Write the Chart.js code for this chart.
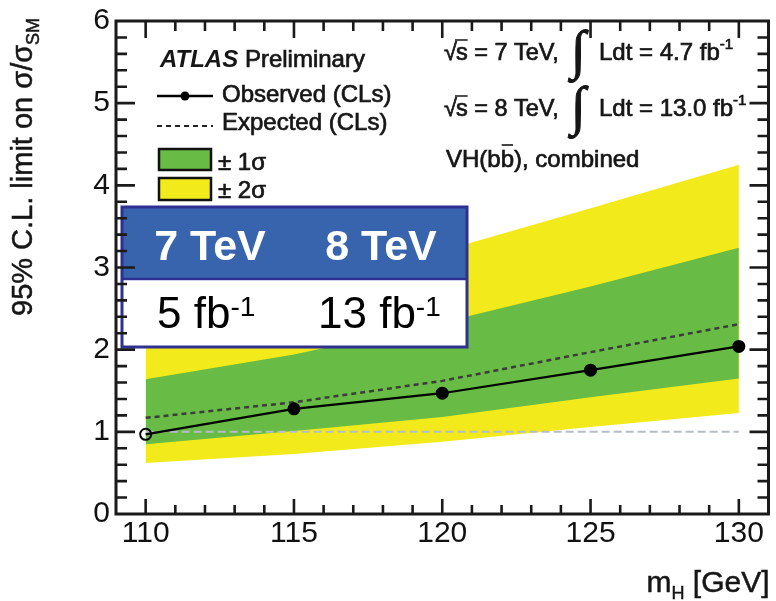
<!DOCTYPE html>
<html>
<head>
<meta charset="utf-8">
<script src="https://cdn.jsdelivr.net/npm/chart.js@4.4.1/dist/chart.umd.min.js"></script>
<style>
  html, body { margin: 0; padding: 0; background: #ffffff; }
  canvas { display: block; }
</style>
</head>
<body>
<canvas id="limitChart" width="776" height="601"></canvas>
<script>
// Higgs mass points [GeV]
const massPoints = [110, 115, 120, 125, 130];
// 95% CL upper limits on sigma / sigma_SM
const observedLimit = [0.97, 1.28, 1.47, 1.75, 2.04];
const expectedLimit = [1.17, 1.36, 1.62, 1.97, 2.31];
const band1SigmaUp = [1.64, 1.94, 2.33, 2.77, 3.24];
const band1SigmaDown = [0.85, 1.01, 1.18, 1.42, 1.65];
const band2SigmaUp = [2.45, 2.78, 3.20, 3.72, 4.25];
const band2SigmaDown = [0.62, 0.73, 0.88, 1.06, 1.23];
// reference line at sigma / sigma_SM = 1
const unityMass = [110, 130];
const unityLimit = [1, 1];
// axis tick labels
const xTickValues = [110, 115, 120, 125, 130];
const yTickValues = [0, 1, 2, 3, 4, 5, 6];

const FONT = '"Liberation Sans", Arial, Helvetica, sans-serif';
const GREEN = '#68bb45';
const YELLOW = '#f3ea1b';
const NAVY = '#2e3192';
const HEADER_BLUE = '#3864ae';
const INK = '#161616';

function toPoints(xs, ys) {
  return xs.map((x, i) => ({ x: x, y: ys[i] }));
}

// text drawn slightly heavier than the regular face
function heavyText(ctx, str, x, y) {
  ctx.fillText(str, x, y);
  ctx.strokeText(str, x, y);
}

function textWithSup(ctx, x, y, base, sup, font, supFont, supRise, heavy) {
  ctx.font = font;
  if (heavy) heavyText(ctx, base, x, y); else ctx.fillText(base, x, y);
  const w = ctx.measureText(base).width;
  ctx.font = supFont;
  if (heavy) heavyText(ctx, sup, x + w, y - supRise); else ctx.fillText(sup, x + w, y - supRise);
  return x + w + ctx.measureText(sup).width;
}

const atlasDecor = {
  id: 'atlasDecor',
  afterDatasetsDraw(chart) {
    const ctx = chart.ctx;
    const a = chart.chartArea;
    const xs = chart.scales.x;
    const ys = chart.scales.y;
    ctx.save();
    ctx.textBaseline = 'alphabetic';

    // ---- overlay box with beam energies and luminosities ----
    const bx0 = 122, by0 = 207, bx1 = 467, by1 = 347, bmid = 279;
    ctx.fillStyle = '#ffffff';
    ctx.fillRect(bx0, by0, bx1 - bx0, by1 - by0);
    ctx.fillStyle = HEADER_BLUE;
    ctx.fillRect(bx0, by0, bx1 - bx0, bmid - by0);
    ctx.strokeStyle = NAVY;
    ctx.lineWidth = 3;
    ctx.strokeRect(bx0, by0, bx1 - bx0, by1 - by0);
    ctx.lineWidth = 2.5;
    ctx.beginPath(); ctx.moveTo(bx0, bmid); ctx.lineTo(bx1, bmid); ctx.stroke();

    ctx.fillStyle = '#ffffff';
    ctx.textAlign = 'center';
    ctx.font = 'bold 43px ' + FONT;
    ctx.fillText('7 TeV', 210, 260);
    ctx.fillText('8 TeV', 381, 260);
    ctx.textAlign = 'left';
    ctx.fillStyle = '#000000';
    textWithSup(ctx, 157, 328, '5 fb', '-1', '44px ' + FONT, '28px ' + FONT, 12, false);
    textWithSup(ctx, 318, 328, '13 fb', '-1', '44px ' + FONT, '28px ' + FONT, 12, false);

    // ---- frame and inward tick marks ----
    ctx.strokeStyle = '#1a1a1a';
    ctx.lineWidth = 3;
    ctx.strokeRect(a.left, a.top, a.right - a.left, a.bottom - a.top);
    ctx.lineWidth = 2.6;
    ctx.beginPath();
    for (let m = Math.ceil(xs.min); m <= Math.floor(xs.max); m++) {
      const px = xs.getPixelForValue(m);
      if (px <= a.left + 2 || px >= a.right - 2) continue;
      const major = m % 5 === 0;
      ctx.moveTo(px, a.bottom); ctx.lineTo(px, a.bottom - (major ? 15 : 9));
      ctx.moveTo(px, a.top); ctx.lineTo(px, a.top + (major ? 17 : 10));
    }
    for (let k = 1; k < 30; k++) {
      const v = k / 5;
      const py = ys.getPixelForValue(v);
      const major = k % 5 === 0;
      ctx.moveTo(a.left, py); ctx.lineTo(a.left + (major ? 19 : 11), py);
      ctx.moveTo(a.right, py); ctx.lineTo(a.right - (major ? 19 : 11), py);
    }
    ctx.stroke();

    // ---- axis titles ----
    ctx.fillStyle = INK;
    ctx.strokeStyle = INK;
    ctx.lineWidth = 0.5;
    // x title: m_H [GeV], right aligned to the frame
    const mainX = '30px ' + FONT, subX = '18px ' + FONT;
    ctx.font = mainX; const wm = ctx.measureText('m').width;
    ctx.font = subX; const wh = ctx.measureText('H').width;
    ctx.font = mainX; const wg = ctx.measureText(' [GeV]').width;
    let tx = a.right + 1 - (wm + wh + wg);
    const tb = 592;
    ctx.font = mainX; heavyText(ctx, 'm', tx, tb); tx += wm;
    ctx.font = subX; heavyText(ctx, 'H', tx, tb + 7); tx += wh;
    ctx.font = mainX; heavyText(ctx, ' [GeV]', tx, tb);

    // y title, rotated
    ctx.save();
    ctx.translate(32, 316);
    ctx.rotate(-Math.PI / 2);
    ctx.font = '29px ' + FONT;
    const yTitle = '95% C.L. limit on \u03c3/\u03c3';
    heavyText(ctx, yTitle, 0, 0);
    const wy = ctx.measureText(yTitle).width;
    ctx.font = '18px ' + FONT;
    heavyText(ctx, 'SM', wy, 7);
    ctx.restore();

    // ---- legend ----
    const LEG = '24px ' + FONT;
    ctx.lineWidth = 0.7;
    ctx.font = 'italic bold 24px ' + FONT;
    ctx.fillText('ATLAS', 160, 67);
    const wa = ctx.measureText('ATLAS').width;
    ctx.font = LEG;
    heavyText(ctx, ' Preliminary', 160 + wa, 67);

    ctx.strokeStyle = '#000000';
    ctx.lineWidth = 2.4;
    ctx.beginPath(); ctx.moveTo(157, 96); ctx.lineTo(213, 96); ctx.stroke();
    ctx.fillStyle = '#000000';
    ctx.beginPath(); ctx.arc(185, 96, 4.5, 0, Math.PI * 2); ctx.fill();

    ctx.strokeStyle = '#222222';
    ctx.lineWidth = 2;
    ctx.setLineDash([5, 4]);
    ctx.beginPath(); ctx.moveTo(157, 126); ctx.lineTo(213, 126); ctx.stroke();
    ctx.setLineDash([]);

    ctx.lineWidth = 2.5;
    ctx.strokeStyle = '#111111';
    ctx.fillStyle = GREEN;
    ctx.fillRect(159, 149, 52, 21);
    ctx.strokeRect(159, 149, 52, 21);
    ctx.fillStyle = YELLOW;
    ctx.fillRect(159, 178, 52, 22);
    ctx.strokeRect(159, 178, 52, 22);

    ctx.fillStyle = INK;
    ctx.strokeStyle = INK;
    ctx.lineWidth = 0.7;
    ctx.font = LEG;
    heavyText(ctx, 'Observed (CLs)', 222, 102);
    heavyText(ctx, 'Expected (CLs)', 222, 130);
    heavyText(ctx, '\u00b1 1\u03c3', 218, 170);
    heavyText(ctx, '\u00b1 2\u03c3', 218, 198);

    // ---- luminosity and channel labels ----
    const lumiLine = (base, label, lumi) => {
      ctx.fillStyle = INK;
      ctx.strokeStyle = INK;
      ctx.lineWidth = 0.7;
      ctx.font = '23.5px ' + FONT;
      heavyText(ctx, '\u221a', 444, base);
      const wr = ctx.measureText('\u221a').width;
      const sx = 444 + wr - 1;
      heavyText(ctx, label, sx, base);
      const ws = ctx.measureText('s').width;
      ctx.lineWidth = 1.5;
      ctx.beginPath(); ctx.moveTo(sx - 1, base - 20); ctx.lineTo(sx + ws, base - 20); ctx.stroke();
      ctx.lineWidth = 1;
      ctx.font = '54px "Liberation Serif", "DejaVu Serif", serif';
      heavyText(ctx, '\u222b', 571, base + 8);
      ctx.lineWidth = 0.7;
      textWithSup(ctx, 599, base, lumi, '-1', LEG, '15px ' + FONT, 11, true);
    };
    lumiLine(60, 's = 7 TeV,', 'Ldt = 4.7 fb');
    lumiLine(116, 's = 8 TeV,', 'Ldt = 13.0 fb');

    ctx.font = LEG;
    ctx.lineWidth = 0.7;
    let cx = 446;
    heavyText(ctx, 'VH(b', cx, 167); cx += ctx.measureText('VH(b').width;
    const wb = ctx.measureText('b').width;
    heavyText(ctx, 'b', cx, 167);
    ctx.lineWidth = 1.6;
    ctx.beginPath(); ctx.moveTo(cx + 1, 145); ctx.lineTo(cx + wb - 1, 145); ctx.stroke();
    cx += wb;
    ctx.lineWidth = 0.7;
    heavyText(ctx, '), combined', cx, 167);

    ctx.restore();
  }
};

const noLine = 'rgba(0,0,0,0)';

new Chart(document.getElementById('limitChart'), {
  type: 'line',
  data: {
    datasets: [
      {
        label: 'Observed (CLs)',
        data: toPoints(massPoints, observedLimit),
        borderColor: '#000000',
        borderWidth: 2.2,
        pointRadius: 5.5,
        pointHoverRadius: 5.5,
        pointBorderWidth: 2,
        pointBorderColor: '#000000',
        pointBackgroundColor: observedLimit.map((v, i) => (i === 0 ? 'rgba(0,0,0,0)' : '#000000')),
        fill: false,
        tension: 0,
        order: 0
      },
      {
        label: 'Expected (CLs)',
        data: toPoints(massPoints, expectedLimit),
        borderColor: '#3c3c3c',
        borderWidth: 2.5,
        borderDash: [5, 4],
        pointRadius: 0,
        fill: false,
        tension: 0,
        order: 1
      },
      {
        label: 'SM',
        data: toPoints(unityMass, unityLimit),
        borderColor: '#b5bdc6',
        borderWidth: 2,
        borderDash: [8, 4],
        pointRadius: 0,
        fill: false,
        order: 2
      },
      {
        label: '+1 sigma',
        data: toPoints(massPoints, band1SigmaUp),
        borderColor: noLine,
        borderWidth: 1,
        pointRadius: 0,
        backgroundColor: GREEN,
        fill: '+1',
        tension: 0,
        order: 3
      },
      {
        label: '-1 sigma',
        data: toPoints(massPoints, band1SigmaDown),
        borderColor: noLine,
        borderWidth: 1,
        pointRadius: 0,
        fill: false,
        tension: 0,
        order: 4
      },
      {
        label: '+2 sigma',
        data: toPoints(massPoints, band2SigmaUp),
        borderColor: noLine,
        borderWidth: 1,
        pointRadius: 0,
        backgroundColor: YELLOW,
        fill: '+1',
        tension: 0,
        order: 5
      },
      {
        label: '-2 sigma',
        data: toPoints(massPoints, band2SigmaDown),
        borderColor: noLine,
        borderWidth: 1,
        pointRadius: 0,
        fill: false,
        tension: 0,
        order: 6
      }
    ]
  },
  options: {
    responsive: false,
    animation: false,
    devicePixelRatio: 1,
    layout: { padding: { top: 15, right: 4, left: 0, bottom: 0 } },
    plugins: {
      legend: { display: false },
      tooltip: { enabled: false },
      title: { display: false }
    },
    scales: {
      x: {
        type: 'linear',
        min: 109,
        max: 131,
        afterBuildTicks: (s) => { s.ticks = xTickValues.map(v => ({ value: v })); },
        afterFit: (s) => { s.height = 87; },
        grid: { display: false, drawTicks: false },
        border: { display: false },
        ticks: {
          font: { family: FONT, size: 30, lineHeight: 1 },
          color: '#111111',
          padding: 5,
          maxRotation: 0,
          autoSkip: false
        }
      },
      y: {
        type: 'linear',
        min: 0,
        max: 6,
        afterBuildTicks: (s) => { s.ticks = yTickValues.map(v => ({ value: v })); },
        afterFit: (s) => { s.width = 116; },
        grid: { display: false, drawTicks: false },
        border: { display: false },
        ticks: {
          font: { family: FONT, size: 30, lineHeight: 1 },
          color: '#111111',
          padding: 6
        }
      }
    }
  },
  plugins: [atlasDecor]
});
</script>
</body>
</html>
